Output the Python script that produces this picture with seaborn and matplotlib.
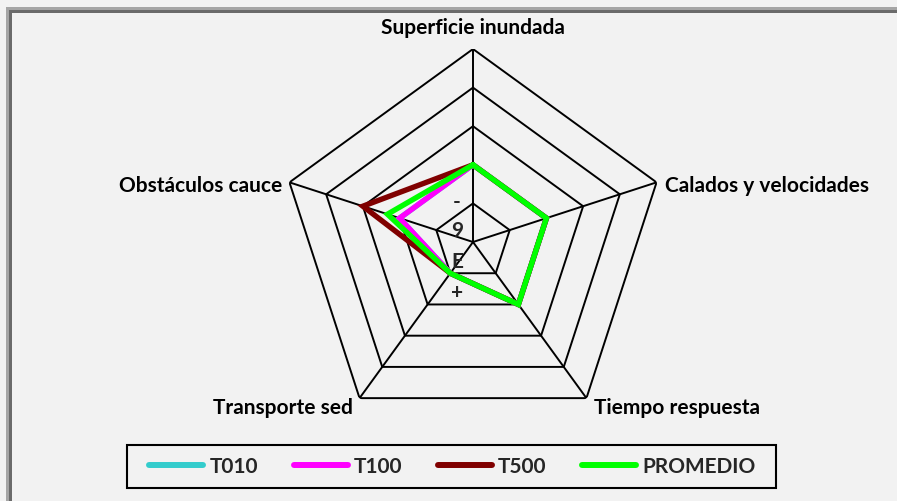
import numpy as np
import pandas as pd
import seaborn as sns
import matplotlib.pyplot as plt
from matplotlib.lines import Line2D
from matplotlib.patches import Rectangle

# ---- data ----
ejes = ['Superficie inundada', 'Calados y velocidades', 'Tiempo respuesta',
        'Transporte sed', 'Obstáculos cauce']
t010 = [2, 2, 2, 1, 2]
t100 = [2, 2, 2, 1, 2]
t500 = [2, 2, 2, 1, 3]
promedio = [2, 2, 2, 1, 2.33]
series = ['T010', 'T100', 'T500', 'PROMEDIO']
colores = ['#33cccc', '#ff00ff', '#800000', '#00ff00']
niveles = [1, 2, 3, 4, 5]
marcas_escala = ['-', '9', 'E', '+']

W, H, DPI = 897, 502, 100
BG = '#f2f2f2'
FONT = ['Lato', 'DejaVu Sans']
FS = 15

sns.set_style('white')
plt.rcParams['font.family'] = FONT
plt.rcParams['font.weight'] = 'bold'

n = len(ejes)
theta = np.linspace(0, 2 * np.pi, n, endpoint=False)
theta_c = np.append(theta, 2 * np.pi)

rows = []
for nombre, vals in zip(series, [t010, t100, t500, promedio]):
    for th, v in zip(theta_c, vals + vals[:1]):
        rows.append({'theta': th, 'r': v, 'serie': nombre})
df = pd.DataFrame(rows)

fig = plt.figure(figsize=(W / DPI, H / DPI), dpi=DPI, facecolor=BG)

def px_rect(x0, y0, x1, y1, **kw):
    # rectangle given in pixel coords measured from the top-left corner
    fig.add_artist(Rectangle((x0 / W, 1 - y1 / H), (x1 - x0) / W, (y1 - y0) / H,
                             transform=fig.transFigure, **kw))

# two-tone frame on top / left edges
px_rect(6, 8, 9, H, color='#a5a5a5', lw=0)
px_rect(6, 8, W, 11, color='#a5a5a5', lw=0)
px_rect(9, 11, 12, H, color='#6b6b6b', lw=0)
px_rect(9, 11, W, 14, color='#6b6b6b', lw=0)

cx, cy, R = 473, 243, 193
ax = fig.add_axes([(cx - R) / W, (H - cy - R) / H, 2 * R / W, 2 * R / H],
                  projection='polar')
ax.set_theta_offset(np.pi / 2)
ax.set_theta_direction(-1)
ax.set_ylim(0, max(niveles))
ax.set_facecolor('none')
ax.grid(False)
ax.spines['polar'].set_visible(False)
ax.set_xticks([])
ax.set_yticks([])

# pentagon grid + spokes
for lv in niveles:
    ax.plot(theta_c, [lv] * len(theta_c), color='black', lw=1.4, zorder=1)
for th in theta:
    ax.plot([th, th], [0, max(niveles)], color='black', lw=1.4, zorder=1)

sns.lineplot(data=df, x='theta', y='r', hue='serie', hue_order=series,
             palette=colores, sort=False, estimator=None, lw=3.9,
             legend=False, ax=ax, zorder=3)
for ln in ax.get_lines()[-len(series):]:
    ln.set_solid_joinstyle('miter')
ax.set_xlabel('')
ax.set_ylabel('')

# axis category labels
offs = [((0, 22), 'center'), ((8, -3), 'left'), ((8, -9), 'left'),
        ((-7, -9), 'right'), ((-7, -3), 'right')]
for th, txt, (off, ha) in zip(theta, ejes, offs):
    ax.annotate(txt, xy=(th, max(niveles)), xytext=off, textcoords='offset pixels',
                ha=ha, va='center', fontsize=FS, fontweight='bold', color='black')

# scale marks near centre
for txt, dy in zip(marcas_escala, [41, 12, -19, -50]):
    ax.annotate(txt, xy=(0, 0), xytext=(-16, dy), textcoords='offset pixels',
                ha='center', va='center', fontsize=FS, fontweight='bold')

# legend (frame drawn separately so padding can differ per side)
px_rect(127, 446, 776, 489, facecolor='none', edgecolor='black', lw=1.5)
handles = [Line2D([], [], color=c, lw=4.3, solid_capstyle='round') for c in colores]
leg = fig.legend(handles, series, loc='center', bbox_to_anchor=(452.5 / W, 1 - 467.5 / H),
                 ncol=4, frameon=False, handlelength=2.6, handletextpad=0.3,
                 columnspacing=1.7, borderpad=0, borderaxespad=0,
                 prop={'weight': 'bold', 'size': FS})

fig.savefig('out.png', dpi=DPI, facecolor=BG)
